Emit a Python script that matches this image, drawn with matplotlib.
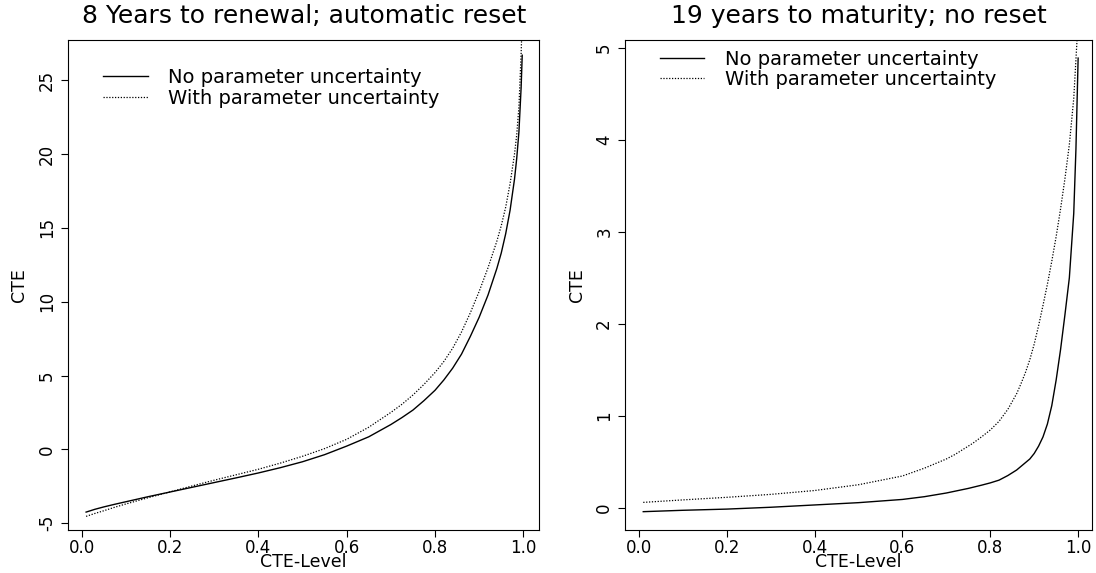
import matplotlib
matplotlib.use('Agg')
import matplotlib.pyplot as plt

plt.rcParams['font.family'] = ['DejaVu Sans']

# left panel: 8 years to renewal, automatic reset
left_level_solid = [0.01, 0.03, 0.05, 0.075, 0.1, 0.15, 0.2, 0.25, 0.3, 0.35, 0.4, 0.45, 0.5, 0.55,
                    0.6, 0.65, 0.7, 0.725, 0.75, 0.775, 0.8, 0.82, 0.84, 0.86, 0.88, 0.9, 0.92,
                    0.94, 0.95, 0.96, 0.97, 0.98, 0.985, 0.99, 0.995, 0.9975]
left_cte_solid = [-4.25, -4.06, -3.9, -3.72, -3.55, -3.21, -2.89, -2.57, -2.25, -1.93, -1.6, -1.24, -0.84, -0.36,
                  0.22, 0.85, 1.68, 2.15, 2.66, 3.3, 4.0, 4.7, 5.5, 6.45, 7.65, 8.95, 10.45,
                  12.25, 13.3, 14.6, 16.2, 18.3, 19.7, 21.5, 24.5, 26.7]
left_level_dotted = [0.01, 0.03, 0.05, 0.075, 0.1, 0.15, 0.2, 0.25, 0.3, 0.35, 0.4, 0.45, 0.5, 0.55,
                     0.6, 0.65, 0.7, 0.725, 0.75, 0.775, 0.8, 0.82, 0.84, 0.86, 0.88, 0.9, 0.92,
                     0.94, 0.95, 0.96, 0.97, 0.98, 0.985, 0.99, 0.995, 1.0]
left_cte_dotted = [-4.54, -4.34, -4.16, -3.92, -3.7, -3.28, -2.88, -2.48, -2.09, -1.72, -1.35, -0.93, -0.47, 0.05,
                   0.68, 1.5, 2.5, 3.05, 3.68, 4.4, 5.2, 5.95, 6.85, 7.95, 9.25, 10.7, 12.3,
                   14.1, 15.15, 16.4, 18.0, 20.0, 21.3, 23.2, 26.8, 31.5]

# right panel: 19 years to maturity, no reset
right_level_solid = [0.01, 0.1, 0.2, 0.3, 0.4, 0.5, 0.6, 0.65, 0.7, 0.75, 0.78, 0.8, 0.82, 0.84,
                     0.86, 0.87, 0.88, 0.89, 0.9, 0.91, 0.92, 0.93, 0.94, 0.95, 0.96, 0.97,
                     0.98, 0.99, 0.995, 1.0]
right_cte_solid = [-0.043, -0.028, -0.015, 0.005, 0.03, 0.055, 0.09, 0.12, 0.16, 0.21, 0.245, 0.27, 0.3, 0.35,
                   0.41, 0.45, 0.49, 0.53, 0.59, 0.67, 0.77, 0.91, 1.11, 1.39, 1.72, 2.1,
                   2.5, 3.2, 3.9, 4.89]
right_level_dotted = [0.01, 0.1, 0.2, 0.3, 0.4, 0.5, 0.6, 0.65, 0.7, 0.72, 0.74, 0.76, 0.78, 0.8,
                      0.82, 0.84, 0.86, 0.87, 0.88, 0.89, 0.9, 0.91, 0.92, 0.93, 0.94, 0.95,
                      0.96, 0.97, 0.98, 0.99, 1.0]
right_cte_dotted = [0.058, 0.085, 0.113, 0.145, 0.187, 0.25, 0.345, 0.43, 0.53, 0.58, 0.64, 0.7, 0.77, 0.845,
                    0.94, 1.07, 1.24, 1.35, 1.47, 1.61, 1.78, 1.98, 2.2, 2.43, 2.68, 2.95,
                    3.25, 3.58, 3.95, 4.45, 5.3]

titles = ['8 Years to renewal; automatic reset', '19 years to maturity; no reset']
legend_labels = ['No parameter uncertainty', 'With parameter uncertainty']
x_ticks = [0.0, 0.2, 0.4, 0.6, 0.8, 1.0]
left_y_ticks = [-5, 0, 5, 10, 15, 20, 25]
right_y_ticks = [0, 1, 2, 3, 4, 5]


def draw_panel(ax, level_solid, cte_solid, level_dotted, cte_dotted, title, yticks, xlim, ylim, leg_anchor):
    ax.plot(level_solid, cte_solid, color='black', lw=1.0, label=legend_labels[0])
    ax.plot(level_dotted, cte_dotted, color='black', lw=0.9, linestyle=(0, (1, 1.3)),
            label=legend_labels[1])
    ax.set_xlim(*xlim)
    ax.set_ylim(*ylim)
    ax.set_xticks(x_ticks)
    ax.set_xticklabels(['%.1f' % t for t in x_ticks])
    ax.set_yticks(yticks)
    ax.set_yticklabels([str(t) for t in yticks], rotation=90, va='center')
    ax.tick_params(direction='out', length=5, width=0.8, labelsize=12, pad=1.5)
    ax.tick_params(axis='y', pad=3.6)
    for spine in ax.spines.values():
        spine.set_linewidth(0.8)
    ax.set_title(title, fontsize=18, pad=12)
    ax.set_xlabel('CTE-Level', fontsize=12.5, va='baseline')
    ax.xaxis.set_label_coords(0.5, -0.0766)
    ax.set_ylabel('CTE', fontsize=12.5, va='center')
    ax.yaxis.set_label_coords(-49 / 470, 0.5)
    ax.legend(loc='upper left', bbox_to_anchor=leg_anchor, frameon=False, fontsize=14,
              handlelength=2.3, handletextpad=1.05, labelspacing=0.08,
              borderpad=0, borderaxespad=0)


fig = plt.figure(figsize=(10.96, 5.73), dpi=100)
ax1 = fig.add_axes([0.0622, 0.0759, 0.4298, 0.8548])
ax2 = fig.add_axes([0.5704, 0.0759, 0.4256, 0.8548])

draw_panel(ax1, left_level_solid, left_cte_solid, left_level_dotted, left_cte_dotted, titles[0],
           left_y_ticks, (-0.0306, 1.036), (-5.43, 27.75), (0.074, 0.942))
draw_panel(ax2, right_level_solid, right_cte_solid, right_level_dotted, right_cte_dotted, titles[1],
           right_y_ticks, (-0.0312, 1.0307), (-0.237, 5.09), (0.074, 0.98))

fig.savefig('out.png', dpi=100)
